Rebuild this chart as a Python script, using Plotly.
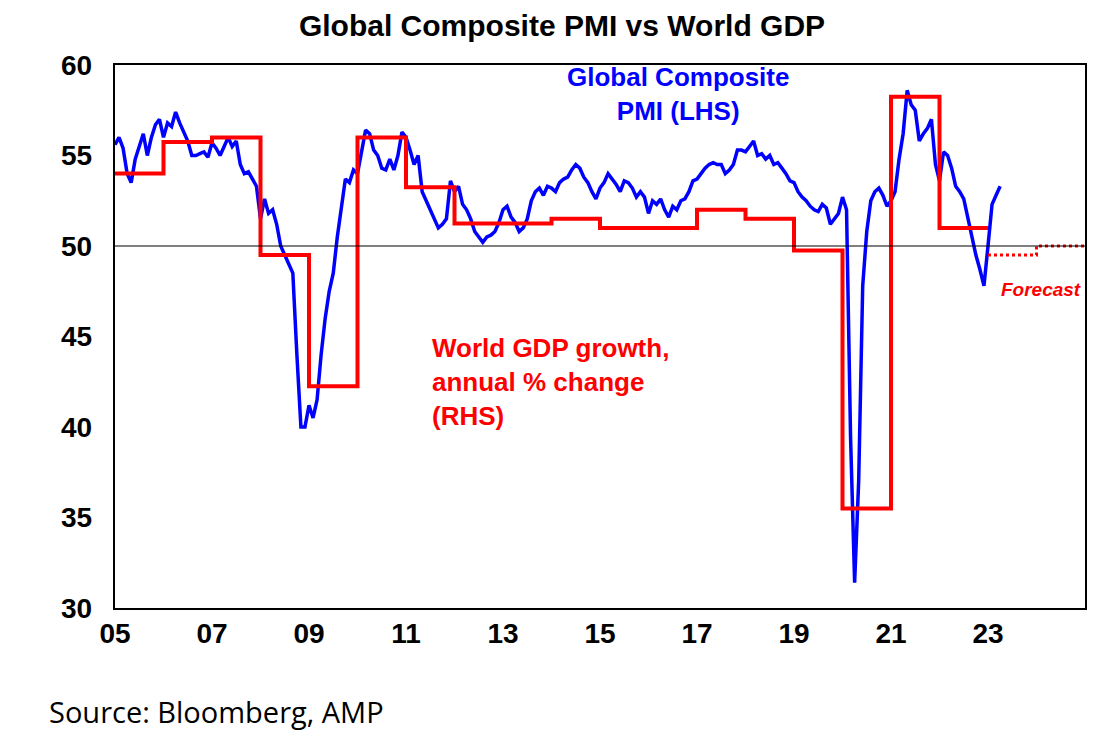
import plotly.graph_objects as go

# Global composite PMI, monthly Jan 2005 - Apr 2023
pmi = [
    55.6, 56.0, 55.4, 54.0, 53.5, 54.8, 55.5, 56.2, 55.0, 56.0, 56.7, 57.0,
    56.0, 56.8, 56.6, 57.4, 56.8, 56.3, 55.8, 55.0, 55.0, 55.1, 55.2, 54.9,
    55.7, 55.4, 55.0, 55.5, 56.0, 55.5, 55.8, 54.5, 54.0, 54.1, 53.7, 53.3,
    51.5, 52.6, 51.8, 52.0, 51.2, 50.0, 49.5, 49.0, 48.5, 44.0, 40.0, 40.0,
    41.2, 40.5, 41.5, 44.0, 46.0, 47.5, 48.5, 50.5, 52.0, 53.7, 53.5, 54.2,
    54.0, 55.3, 56.4, 56.2, 55.3, 55.0, 54.3, 54.2, 54.8, 54.2, 55.0, 56.3,
    56.0, 55.3, 54.5, 55.0, 53.0, 52.5, 52.0, 51.5, 51.0, 51.2, 51.5, 53.6,
    53.0, 53.3, 52.3, 52.0, 51.5, 50.8, 50.5, 50.2, 50.5, 50.6, 50.8, 51.3,
    52.0, 52.2, 51.6, 51.3, 50.8, 51.0, 51.5, 52.5, 53.0, 53.2, 52.8, 53.3,
    53.2, 53.0, 53.5, 53.7, 53.8, 54.2, 54.5, 54.3, 53.8, 53.5, 53.0, 52.6,
    53.2, 53.5, 54.0, 53.7, 53.4, 53.0, 53.6, 53.5, 53.2, 52.7, 53.0, 52.7,
    51.8, 52.5, 52.3, 52.6, 52.0, 51.6, 52.2, 52.0, 52.5, 52.6, 53.0, 53.6,
    53.7, 54.0, 54.3, 54.5, 54.6, 54.5, 54.5, 54.0, 54.2, 54.5, 55.3, 55.3,
    55.2, 55.5, 55.8, 55.0, 55.1, 54.8, 55.0, 54.5, 54.6, 54.3, 54.0, 53.6,
    53.5, 53.0, 52.7, 52.5, 52.2, 52.0, 51.9, 52.3, 52.1, 51.2, 51.5, 51.8,
    52.7, 52.0, 39.4, 31.4, 37.0, 47.8, 50.8, 52.5, 53.0, 53.2, 52.8, 52.2,
    52.5, 53.0, 54.8, 56.2, 58.6, 57.8, 57.5, 55.8, 56.2, 56.5, 57.0, 54.5,
    53.6, 55.2, 55.0, 54.3, 53.3, 53.0, 52.6, 51.5, 50.6, 49.5, 48.7, 47.8,
    50.0, 52.3, 52.8, 53.3,
]
pmi_start_year = 2005

# World GDP growth, annual % change (2023-24 forecast)
gdp_years = list(range(2005, 2025))
gdp = [4.6, 5.3, 5.4, 2.8, -0.1, 5.4, 4.3, 3.5, 3.5, 3.6,
       3.4, 3.4, 3.8, 3.6, 2.9, -2.8, 6.3, 3.4, 2.8, 3.0]
forecast_from = 2023

tick_years = list(range(2005, 2024, 2))
tick_labels = [f"<b>{y % 100:02d}</b>" for y in tick_years]
y_ticks = [30, 35, 40, 45, 50, 55, 60]
y_labels = [f"<b>{v}</b>  " for v in y_ticks]

pmi_x = [pmi_start_year + i / 12 for i in range(len(pmi))]
n_act = gdp_years.index(forecast_from)
act_x = gdp_years[:n_act] + [forecast_from]
act_y = gdp[:n_act] + [gdp[n_act - 1]]
fc_x = gdp_years[n_act:] + [gdp_years[-1] + 1]
fc_y = gdp[n_act:] + [gdp[-1]]

fig = go.Figure()
fig.add_trace(go.Scatter(x=act_x, y=act_y, mode="lines", line_shape="hv",
                         line=dict(color="#ff0000", width=4), yaxis="y2"))
fig.add_trace(go.Scatter(x=fc_x, y=fc_y, mode="lines", line_shape="hv",
                         line=dict(color="#ff0000", width=3, dash="dot"), yaxis="y2"))
fig.add_trace(go.Scatter(x=pmi_x, y=pmi, mode="lines",
                         line=dict(color="#0000ff", width=3.5)))

tickfont = dict(family="Liberation Sans Narrow, Liberation Sans, Arial", size=28, color="black")
fig.update_layout(
    width=1108, height=736,
    paper_bgcolor="white", plot_bgcolor="white",
    showlegend=False,
    margin=dict(l=107, r=31, t=57, b=136),
    title=dict(text="<b>Global Composite PMI vs World GDP</b>", x=0.5, xanchor="center",
               y=0.99, yanchor="top",
               font=dict(family="Liberation Sans, Arial", size=30, color="black")),
    xaxis=dict(range=[2005, 2025], tickvals=tick_years, ticktext=tick_labels,
               showgrid=False, zeroline=False, showline=True, linecolor="black",
               linewidth=1.5, mirror=True, ticks="", tickfont=tickfont),
    yaxis=dict(range=[30, 60], tickvals=y_ticks, ticktext=y_labels, showgrid=False,
               zeroline=False, showline=True, linecolor="black", linewidth=1.5,
               mirror=True, ticks="", tickfont=tickfont),
    yaxis2=dict(range=[-5, 7], overlaying="y", side="right", visible=False),
    shapes=[dict(type="line", xref="paper", x0=0, x1=1, yref="y", y0=50, y1=50,
                 line=dict(color="black", width=1))],
    annotations=[
        dict(x=2016.6, y=58.4, xref="x", yref="y", showarrow=False,
             text="<b>Global Composite<br>PMI (LHS)</b>",
             font=dict(family="Liberation Sans, Arial", size=26, color="#0000ff")),
        dict(x=2011.5, y=42.5, xref="x", yref="y", showarrow=False, align="left",
             xanchor="left",
             text="<b>World GDP growth,<br>annual % change<br>(RHS)</b>",
             font=dict(family="Liberation Sans, Arial", size=26, color="#ff0000")),
        dict(x=2024.95, y=47.6, xref="x", yref="y", showarrow=False, xanchor="right",
             text="<b><i>Forecast</i></b>",
             font=dict(family="Liberation Sans, Arial", size=19, color="#ff0000")),
        dict(x=-0.07, y=-0.19, xref="paper", yref="paper", xanchor="left", yanchor="middle",
             showarrow=False, text="Source: Bloomberg, AMP",
             font=dict(family="Open Sans, Liberation Sans", size=29, color="black")),
    ],
)

fig.write_html("out.html")
